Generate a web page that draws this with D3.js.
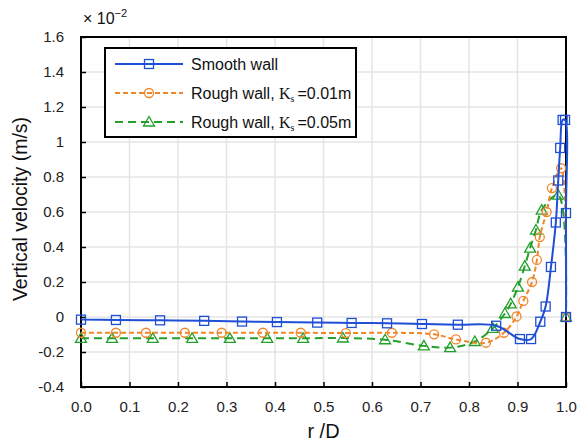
<!DOCTYPE html>
<html>
<head>
<meta charset="utf-8">
<script src="https://cdnjs.cloudflare.com/ajax/libs/d3/7.8.5/d3.min.js"></script>
<style>
  body { margin: 0; background: #fff; }
  svg { display: block; font-family: "Liberation Sans", Arial, sans-serif; }
</style>
</head>
<body>
<script>
// values (velocity in units of 1e-2 m/s)
var smoothR = [0, 0.072, 0.163, 0.254, 0.332, 0.404, 0.487, 0.558, 0.631, 0.703, 0.777, 0.856, 0.905, 0.928, 0.947, 0.958, 0.969, 0.979, 0.984, 0.988, 0.993, 0.998, 1.0, 1.0];
var smoothV = [-0.015, -0.017, -0.019, -0.022, -0.026, -0.029, -0.032, -0.034, -0.036, -0.04, -0.044, -0.05, -0.126, -0.126, -0.027, 0.06, 0.286, 0.54, 0.78, 0.966, 1.126, 1.126, 0.594, 0];

var rough1R = [0, 0.072, 0.134, 0.214, 0.29, 0.375, 0.453, 0.546, 0.641, 0.728, 0.773, 0.835, 0.872, 0.898, 0.912, 0.93, 0.94, 0.946, 0.96, 0.971, 0.99, 1.0];
var rough1V = [-0.09, -0.09, -0.09, -0.09, -0.09, -0.09, -0.09, -0.092, -0.09, -0.099, -0.128, -0.147, -0.09, 0.003, 0.092, 0.2, 0.326, 0.457, 0.6, 0.737, 0.85, 0];

var rough5R = [0, 0.064, 0.148, 0.229, 0.307, 0.384, 0.458, 0.54, 0.627, 0.707, 0.761, 0.812, 0.849, 0.874, 0.886, 0.901, 0.915, 0.926, 0.938, 0.95, 0.984, 1.0];
var rough5V = [-0.122, -0.122, -0.122, -0.122, -0.122, -0.122, -0.122, -0.12, -0.13, -0.165, -0.175, -0.14, -0.065, 0.02, 0.075, 0.171, 0.291, 0.394, 0.497, 0.611, 0.697, 0];

var xTicks = [0, 0.1, 0.2, 0.3, 0.4, 0.5, 0.6, 0.7, 0.8, 0.9, 1.0];
var yTicks = [-0.4, -0.2, 0, 0.2, 0.4, 0.6, 0.8, 1, 1.2, 1.4, 1.6];
var yTickLabels = ["-0.4", "-0.2", "0", "0.2", "0.4", "0.6", "0.8", "1", "1.2", "1.4", "1.6"];

var W = 585, H = 444;
var margin = {left: 81, right: 19, top: 37, bottom: 57};
var pw = W - margin.left - margin.right, ph = H - margin.top - margin.bottom;

var svg = d3.select("body").append("svg").attr("width", W).attr("height", H);
var g = svg.append("g").attr("transform", "translate(" + margin.left + "," + margin.top + ")");

var x = d3.scaleLinear().domain([0, 1]).range([0, pw]);
var y = d3.scaleLinear().domain([-0.4, 1.6]).range([ph, 0]);

// grid
g.selectAll(".gx").data(xTicks).enter().append("line")
  .attr("x1", d => x(d)).attr("x2", d => x(d)).attr("y1", 0).attr("y2", ph)
  .style("stroke", "#e4e4e4").style("stroke-width", 1.5);
g.selectAll(".gy").data(yTicks).enter().append("line")
  .attr("x1", 0).attr("x2", pw).attr("y1", d => y(d)).attr("y2", d => y(d))
  .style("stroke", "#e4e4e4").style("stroke-width", 1.5);

// axes, ticks pointing inward
var xAxis = d3.axisBottom(x).tickValues(xTicks).tickSizeInner(-5).tickSizeOuter(0).tickPadding(14).tickFormat(d3.format(".1f"));
var yAxis = d3.axisLeft(y).tickValues(yTicks).tickSizeInner(-5).tickSizeOuter(0).tickPadding(17)
  .tickFormat(function(d, i){ return yTickLabels[i]; });

var gx = g.append("g").attr("transform", "translate(0," + ph + ")").call(xAxis);
var gy = g.append("g").call(yAxis);
[gx, gy].forEach(function(a){
  a.select(".domain").remove();
  a.selectAll(".tick line").style("stroke", "#000").style("stroke-width", 1.5);
  a.selectAll(".tick text").style("font-size", "15px").style("fill", "#222").style("font-family", "Liberation Sans, Arial, sans-serif");
});

// frame
g.append("rect").attr("x", 0).attr("y", 0).attr("width", pw).attr("height", ph)
  .style("fill", "none").style("stroke", "#000").style("stroke-width", 2);

var series = [
  {name: "smooth", r: smoothR, v: smoothV, color: "#1f4fd6", dash: null, marker: "square"},
  {name: "rough1", r: rough1R, v: rough1V, color: "#f0862a", dash: "5,3", marker: "circle"},
  {name: "rough5", r: rough5R, v: rough5V, color: "#22a02a", dash: "8,5", marker: "triangle"}
];

var line = d3.line().x(d => x(d[0])).y(d => y(d[1])).curve(d3.curveCatmullRom.alpha(0.5));

function drawMarker(sel, type, color) {
  if (type === "square") {
    sel.append("rect").attr("x", -4.5).attr("y", -4.5).attr("width", 9).attr("height", 9)
      .style("fill", "none").style("stroke", color).style("stroke-width", 1.3);
  } else if (type === "circle") {
    sel.append("circle").attr("r", 4.5)
      .style("fill", "none").style("stroke", color).style("stroke-width", 1.3);
  } else {
    sel.append("path").attr("d", "M0,-5.5L5.5,4L-5.5,4Z")
      .style("fill", "none").style("stroke", color).style("stroke-width", 1.3);
  }
}

// draw in reverse so blue sits on top
series.slice().reverse().forEach(function(s){
  var pts = s.r.map((r, i) => [r, s.v[i]]);
  var sg = g.append("g").attr("class", s.name);
  sg.append("path").attr("d", line(pts))
    .style("fill", "none").style("stroke", s.color).style("stroke-width", 2)
    .style("stroke-dasharray", s.dash);
  pts.forEach(function(p){
    var m = sg.append("g").attr("transform", "translate(" + x(p[0]) + "," + y(p[1]) + ")");
    drawMarker(m, s.marker, s.color);
  });
});

// legend
var leg = svg.append("g");
leg.append("rect").attr("x", 105).attr("y", 48).attr("width", 251).attr("height", 89)
  .style("fill", "#fff").style("stroke", "#000").style("stroke-width", 2);
var legRows = [
  {y: 64, s: series[0], pre: "Smooth wall", ks: null},
  {y: 93, s: series[1], pre: "Rough wall, ", ks: "=0.01m"},
  {y: 122, s: series[2], pre: "Rough wall, ", ks: "=0.05m"}
];
legRows.forEach(function(row){
  leg.append("line").attr("x1", 115).attr("x2", 183).attr("y1", row.y).attr("y2", row.y)
    .style("stroke", row.s.color).style("stroke-width", 2).style("stroke-dasharray", row.s.dash);
  drawMarker(leg.append("g").attr("transform", "translate(149," + row.y + ")"), row.s.marker, row.s.color);
  var t = leg.append("text").attr("x", 191).attr("y", row.y + 6).style("font-size", "16px").style("fill", "#111");
  t.append("tspan").text(row.pre);
  if (row.ks) {
    t.append("tspan").style("font-family", "Liberation Serif, Times New Roman, serif").text("K");
    t.append("tspan").style("font-family", "Liberation Serif, Times New Roman, serif").style("font-size", "10px").attr("dy", 3).text("s");
    t.append("tspan").attr("dy", -3).attr("dx", 3).text(row.ks);
  }
});

// axis titles
svg.append("text").attr("x", margin.left + pw / 2).attr("y", 438).attr("text-anchor", "middle")
  .style("font-size", "20px").style("fill", "#111").text("r /D");
svg.append("text").attr("transform", "translate(27," + (margin.top + ph / 2 - 3) + ") rotate(-90)")
  .attr("text-anchor", "middle").style("font-size", "19.5px").style("fill", "#111").text("Vertical velocity (m/s)");

// exponent label
var ex = svg.append("text").attr("x", 83).attr("y", 24).style("font-size", "16px").style("fill", "#111");
ex.append("tspan").text("\u00d7 10");
ex.append("tspan").attr("dy", -7).style("font-size", "11px").text("\u22122");
</script>
</body>
</html>
